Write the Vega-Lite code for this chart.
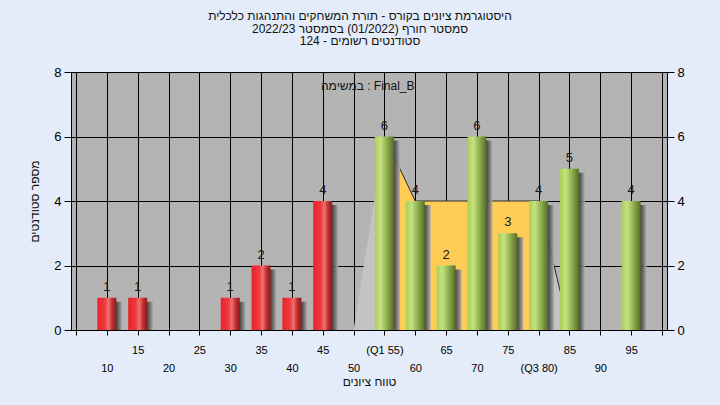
{
  "$schema": "https://vega.github.io/schema/vega-lite/v6.json",
  "width": 596,
  "height": 258,
  "autosize": "none",
  "padding": {"left": 71, "top": 72, "right": 53, "bottom": 75},
  "background": "#e3ecf8",
  "config": {
    "font": "Liberation Sans",
    "view": {"fill": "#b4b4b4", "stroke": "#000000", "strokeWidth": 1},
    "axis": {"labelFont": "Liberation Sans", "titleFont": "Liberation Sans"}
  },
  "title": {
    "text": [
      "היסטוגרמת ציונים בקורס - תורת המשחקים והתנהגות כלכלית",
      "2022/23  סמסטר חורף  (01/2022)  בסמסטר",
      "124 - סטודנטים רשומים"
    ],
    "font": "Liberation Sans",
    "fontSize": 12,
    "fontWeight": "normal",
    "color": "#111111",
    "lineHeight": 12.4,
    "anchor": "middle",
    "baseline": "bottom",
    "dx": -9,
    "offset": 6
  },
  "datasets": {
    "bars": [
      {"score": 10, "count": 1},
      {"score": 15, "count": 1},
      {"score": 30, "count": 1},
      {"score": 35, "count": 2},
      {"score": 40, "count": 1},
      {"score": 45, "count": 4},
      {"score": 55, "count": 6},
      {"score": 60, "count": 4},
      {"score": 65, "count": 2},
      {"score": 70, "count": 6},
      {"score": 75, "count": 3},
      {"score": 80, "count": 4},
      {"score": 85, "count": 5},
      {"score": 95, "count": 4}
    ],
    "shape": [
      {"seg": "low", "score": 50, "count": 0},
      {"seg": "low", "score": 55, "count": 6},
      {"seg": "iqr", "score": 55, "count": 6},
      {"seg": "iqr", "score": 60, "count": 4},
      {"seg": "iqr", "score": 65, "count": 4},
      {"seg": "iqr", "score": 70, "count": 4},
      {"seg": "iqr", "score": 75, "count": 4},
      {"seg": "iqr", "score": 80, "count": 4},
      {"seg": "high", "score": 80, "count": 4},
      {"seg": "high", "score": 85, "count": 0}
    ],
    "note": [{"text": "במשימה : Final_B"}]
  },
  "resolve": {"axis": {"x": "independent", "y": "independent"}},
  "layer": [
    {
      "data": {"name": "shape"},
      "mark": {"type": "area", "opacity": 1},
      "encoding": {
        "x": {
          "field": "score",
          "type": "quantitative",
          "scale": {"domain": [5, 100], "nice": false, "zero": false},
          "axis": {
            "orient": "bottom",
            "values": [5, 10, 15, 20, 25, 30, 35, 40, 45, 50, 55, 60, 65, 70, 75, 80, 85, 90, 95, 100],
            "grid": true,
            "gridColor": "#000000",
            "gridOpacity": 1,
            "gridWidth": 1,
            "domainColor": "#000000",
            "tickColor": "#000000",
            "tickSize": 5,
            "labelFontSize": 11,
            "labelColor": "#000000",
            "labelBaseline": "top",
            "labelPadding": 9,
            "labelOverlap": false,
            "labelFlush": false,
            "labelExpr": "datum.value == 55 ? '(Q1 55)' : (datum.value % 10 == 5 && datum.value != 5) ? datum.label : ''",
            "title": null
          }
        },
        "y": {
          "field": "count",
          "type": "quantitative",
          "stack": null,
          "scale": {"domain": [0, 8], "nice": false},
          "axis": {
            "orient": "left",
            "values": [0, 2, 4, 6, 8],
            "grid": true,
            "gridColor": "#000000",
            "gridOpacity": 1,
            "gridWidth": 1,
            "domainColor": "#000000",
            "tickColor": "#000000",
            "tickSize": 7,
            "labelFontSize": 13,
            "labelColor": "#000000",
            "labelPadding": 3,
            "title": "מספר סטודנטים",
            "titleFontSize": 12,
            "titleFontWeight": "normal",
            "titleColor": "#111111",
            "titlePadding": 12
          }
        },
        "color": {
          "field": "seg",
          "type": "nominal",
          "scale": {"domain": ["low", "iqr", "high"], "range": ["#c3c3c3", "#ffcc55", "#c3c3c3"]},
          "legend": null
        }
      }
    },
    {
      "data": {"name": "shape"},
      "transform": [{"filter": "datum.seg != 'low'"}],
      "mark": {"type": "line", "color": "#2a2a2a", "strokeWidth": 1},
      "encoding": {
        "x": {
          "field": "score",
          "type": "quantitative",
          "scale": {"domain": [5, 100], "nice": false, "zero": false},
          "axis": {
            "orient": "bottom",
            "values": [10, 20, 30, 40, 50, 60, 70, 80, 90],
            "grid": false,
            "domain": false,
            "ticks": false,
            "tickSize": 0,
            "labelFontSize": 11,
            "labelColor": "#000000",
            "labelBaseline": "top",
            "labelPadding": 32,
            "labelOverlap": false,
            "labelFlush": false,
            "labelExpr": "datum.value == 80 ? '(Q3 80)' : datum.label",
            "title": "טווח ציונים",
            "titleFontSize": 12,
            "titleFontWeight": "normal",
            "titleColor": "#111111",
            "titlePadding": 3
          }
        },
        "y": {"field": "count", "type": "quantitative", "scale": {"domain": [0, 8], "nice": false}, "axis": null},
        "detail": {"field": "seg"}
      }
    },
    {
      "data": {"name": "bars"},
      "mark": {
        "type": "bar",
        "width": 19,
        "xOffset": 6,
        "yOffset": 4,
        "clip": true,
        "color": {
          "gradient": "linear",
          "x1": 0, "x2": 1, "y1": 0, "y2": 0,
          "stops": [
            {"offset": 0, "color": "#3c3c3c"},
            {"offset": 0.68, "color": "#3c3c3c"},
            {"offset": 0.8, "color": "#606060"},
            {"offset": 1, "color": "#b0b0b0"}
          ]
        },
        "opacity": 0.9
      },
      "encoding": {
        "x": {"field": "score", "type": "quantitative", "scale": {"domain": [5, 100], "nice": false, "zero": false}, "axis": null},
        "y": {"field": "count", "type": "quantitative", "scale": {"domain": [0, 8], "nice": false}, "axis": null}
      }
    },
    {
      "data": {"name": "bars"},
      "mark": {"type": "bar", "width": 19},
      "encoding": {
        "x": {"field": "score", "type": "quantitative", "scale": {"domain": [5, 100], "nice": false, "zero": false}, "axis": null},
        "y": {
          "field": "count",
          "type": "quantitative",
          "scale": {"domain": [0, 8], "nice": false},
          "axis": {
            "orient": "right",
            "values": [0, 2, 4, 6, 8],
            "grid": false,
            "domainColor": "#000000",
            "tickColor": "#000000",
            "tickSize": 7,
            "labelFontSize": 13,
            "labelColor": "#000000",
            "labelPadding": 3,
            "title": null
          }
        },
        "color": {
          "condition": {
            "test": "datum.score < 50",
            "value": {
              "gradient": "linear",
              "x1": 0, "x2": 1, "y1": 0, "y2": 0,
              "stops": [
                {"offset": 0, "color": "#e8222a"},
                {"offset": 0.4, "color": "#ee3a3e"},
                {"offset": 0.58, "color": "#f07272"},
                {"offset": 0.78, "color": "#c03030"},
                {"offset": 1, "color": "#8a1a1a"}
              ]
            }
          },
          "value": {
            "gradient": "linear",
            "x1": 0, "x2": 1, "y1": 0, "y2": 0,
            "stops": [
              {"offset": 0, "color": "#a8d050"},
              {"offset": 0.3, "color": "#c6e184"},
              {"offset": 0.55, "color": "#9cbc56"},
              {"offset": 0.8, "color": "#74903c"},
              {"offset": 1, "color": "#566c2c"}
            ]
          }
        }
      }
    },
    {
      "data": {"name": "bars"},
      "mark": {"type": "text", "fontSize": 13, "color": "#1a1a1a", "baseline": "alphabetic", "dy": -7, "font": "Liberation Sans"},
      "encoding": {
        "x": {"field": "score", "type": "quantitative", "scale": {"domain": [5, 100], "nice": false, "zero": false}, "axis": null},
        "y": {"field": "count", "type": "quantitative", "scale": {"domain": [0, 8], "nice": false}, "axis": null},
        "text": {"field": "count", "type": "quantitative"}
      }
    },
    {
      "data": {"name": "note"},
      "mark": {"type": "text", "fontSize": 12, "color": "#111111", "baseline": "middle", "align": "center", "font": "Liberation Sans"},
      "encoding": {
        "x": {"datum": 52.3, "type": "quantitative", "scale": {"domain": [5, 100], "nice": false, "zero": false}, "axis": null},
        "y": {"datum": 7.57, "type": "quantitative", "scale": {"domain": [0, 8], "nice": false}, "axis": null},
        "text": {"field": "text"}
      }
    }
  ]
}
